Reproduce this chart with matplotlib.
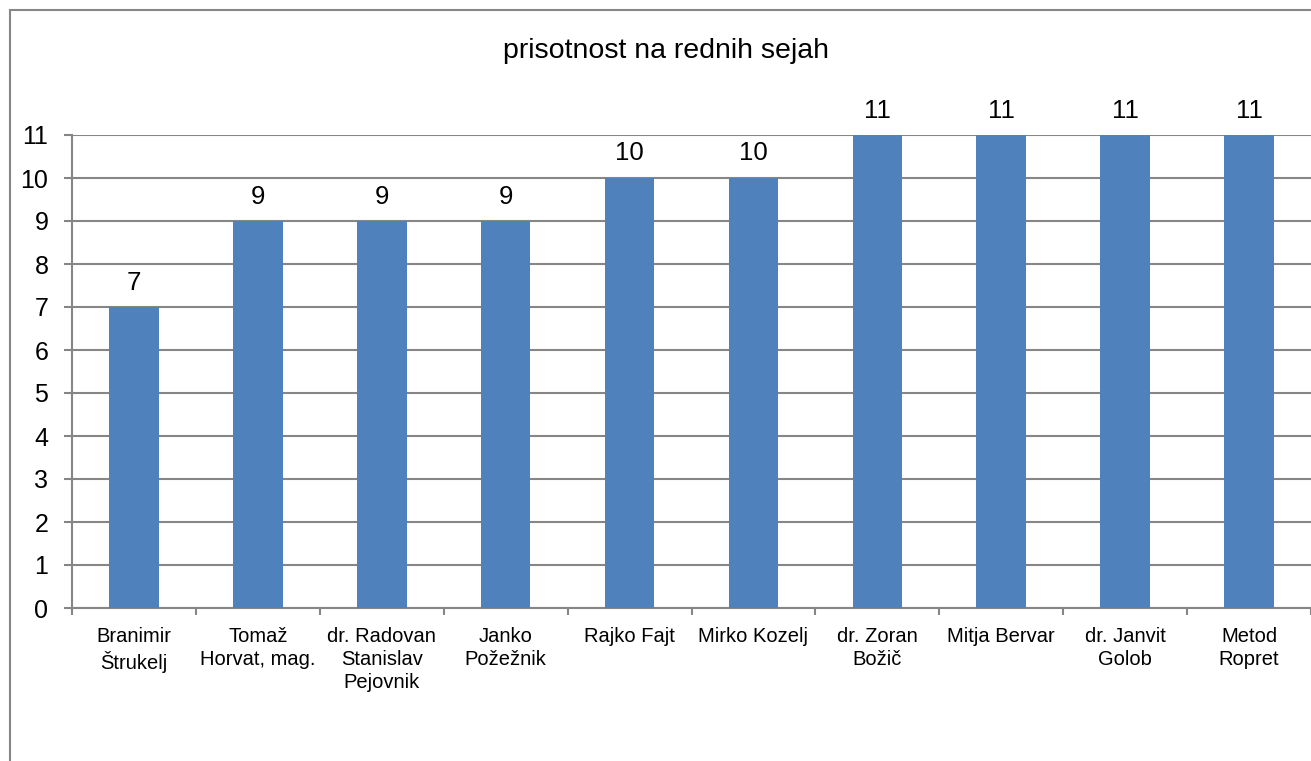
import numpy as np
import matplotlib
matplotlib.use("Agg")
import matplotlib.pyplot as plt
from matplotlib.patches import Rectangle

plt.rcParams["font.family"] = ["Liberation Sans", "DejaVu Sans"]

# data
names = ["Branimir\nŠtrukelj", "Tomaž\nHorvat, mag.", "dr. Radovan\nStanislav\nPejovnik",
         "Janko\nPožežnik", "Rajko Fajt", "Mirko Kozelj", "dr. Zoran\nBožič",
         "Mitja Bervar", "dr. Janvit\nGolob", "Metod\nRopret"]
attendance = [7, 9, 9, 9, 10, 10, 11, 11, 11, 11]
yticks = list(range(0, 12))

W, H = 1311, 761
fig = plt.figure(figsize=(W / 100, H / 100), dpi=100)
ax = fig.add_axes([72 / W, 153 / H, (W - 72) / W, (608 - 135) / H])

grid_col = "#868686"
bar_col = "#4F81BD"

x = np.arange(len(names))
bars = ax.bar(x, attendance, width=0.4, color=bar_col, zorder=3)

for xi, v in zip(x, attendance):
    ax.annotate(str(v), (xi, v), xytext=(0, 9), textcoords="offset points",
                ha="center", va="bottom", fontsize=18.5, color="black",
                annotation_clip=False)

ax.set_xlim(-0.5, len(names) - 0.5)
ax.set_ylim(0, 11)
ax.set_yticks(yticks)
ax.yaxis.grid(True, color=grid_col, linewidth=1.5, zorder=0)
ax.set_axisbelow(True)

ax.set_xticks(x)
ax.set_xticklabels(names, fontsize=14.5, linespacing=1.25)
ax.set_xticks(np.arange(-0.5, len(names)), minor=True)
ax.tick_params(axis="x", which="major", length=0, pad=14)
ax.tick_params(axis="x", which="minor", length=5, width=1.5, color=grid_col)
ax.tick_params(axis="y", length=6, width=1.5, color=grid_col, labelsize=18, pad=11)

for s in ["top", "right"]:
    ax.spines[s].set_visible(False)
for s in ["left", "bottom"]:
    ax.spines[s].set_color(grid_col)
    ax.spines[s].set_linewidth(1.5)

fig.text(666 / W, 1 - 51 / H, "prisotnost na rednih sejah", fontsize=20.5,
         ha="center", va="center")

# chart area border
fig.patches.append(Rectangle((9.5 / W, -0.1), 1.2, 1 - 9.5 / H + 0.1,
                             transform=fig.transFigure, fill=False,
                             edgecolor=grid_col, linewidth=1.5))

fig.savefig("out.png", dpi=100)
